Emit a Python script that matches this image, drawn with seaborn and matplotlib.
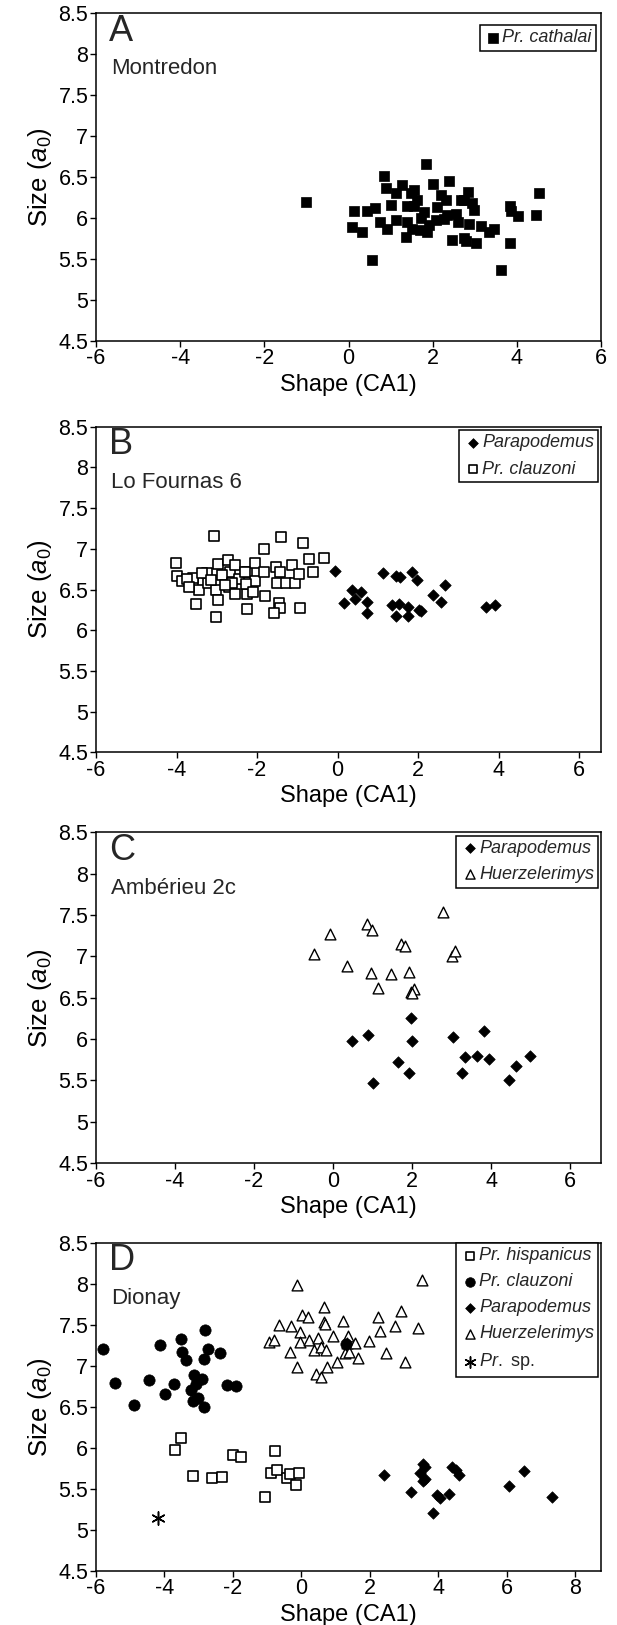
import numpy as np
import pandas as pd
import matplotlib
matplotlib.use('Agg')
import matplotlib.pyplot as plt
import seaborn as sns
from matplotlib.ticker import FuncFormatter

# Panel A - Montredon
a_cath_x = [-1.02, 1.85, 0.84, 0.90, 2.39, 2.00, 4.52, 4.45, 3.83, 4.03, 3.85, 3.83, 3.63, 0.55, 0.14,
            0.09, 0.33, 0.43, 0.64, 0.76, 0.92, 1.12, 1.28, 1.40, 1.56, 1.63, 1.40, 1.36, 1.52, 1.72,
            1.87, 2.11, 2.19, 2.31, 2.07, 2.27, 2.59, 2.83, 2.67, 2.94, 2.98, 2.87, 3.14, 3.34, 3.46,
            2.46, 2.74, 3.02, 2.78, 1.00, 1.12, 1.48, 1.71, 1.91, 2.35, 2.55, 1.80, 1.56, 2.75]
a_cath_y = [6.19, 6.66, 6.51, 6.37, 6.45, 6.42, 6.30, 6.04, 6.15, 6.02, 6.08, 5.70, 5.36, 5.49, 6.08,
            5.89, 5.83, 6.09, 6.12, 5.95, 5.87, 5.97, 6.40, 6.15, 6.34, 6.22, 5.95, 5.77, 5.87, 6.00,
            5.83, 6.14, 6.28, 6.22, 5.97, 5.99, 5.95, 6.32, 6.22, 6.18, 6.10, 5.93, 5.90, 5.83, 5.87,
            5.73, 5.75, 5.69, 5.72, 6.16, 6.30, 6.30, 5.85, 5.92, 6.04, 6.05, 6.07, 6.15, 6.22]

# Panel B - Lo Fournas 6
b_para_x = [-0.07, 0.15, 0.36, 0.42, 0.59, 0.72, 0.73, 1.12, 1.36, 1.45, 1.54, 1.45, 1.52, 1.74, 1.74,
            1.84, 1.96, 2.02, 2.06, 2.38, 2.56, 2.66, 3.68, 3.90]
b_para_y = [6.73, 6.33, 6.49, 6.38, 6.47, 6.35, 6.21, 6.70, 6.31, 6.67, 6.66, 6.17, 6.32, 6.29, 6.18,
            6.72, 6.62, 6.25, 6.24, 6.43, 6.35, 6.55, 6.28, 6.31]
b_clau_x = [-4.01, -3.99, -3.87, -3.59, -3.60, -3.45, -3.51, -3.25, -3.23, -3.01, -2.98, -3.01, -2.97,
            -2.73, -2.67, -2.54, -2.44, -2.71, -2.54, -2.24, -2.25, -2.25, -2.04, -1.84, -2.04, -1.84,
            -1.80, -1.52, -1.42, -1.50, -1.27, -1.05, -1.13, -0.97, -0.72, -0.61, -0.35, -1.46, -1.42,
            -1.59, -0.93, -0.86, -1.40, -3.08, -3.75, -3.37, -2.88, -2.62, -2.31, -2.28, -2.09, -3.70,
            -3.15, -2.80]
b_clau_y = [6.82, 6.67, 6.60, 6.58, 6.64, 6.49, 6.32, 6.70, 6.58, 6.49, 6.37, 6.16, 6.81,
            6.86, 6.72, 6.80, 6.63, 6.53, 6.45, 6.45, 6.26, 6.72, 6.82, 7.00, 6.61, 6.72,
            6.42, 6.78, 6.72, 6.58, 6.58, 6.58, 6.80, 6.69, 6.87, 6.72, 6.89, 6.33, 6.27,
            6.21, 6.27, 7.07, 7.14, 7.16, 6.63, 6.70, 6.68, 6.58, 6.72, 6.57, 6.47, 6.53,
            6.62, 6.55]

# Panel C - Ambérieu 2c
c_para_x = [0.47, 0.88, 1.01, 1.63, 1.91, 1.98, 2.00, 3.03, 3.25, 3.33, 3.63, 3.83, 3.94, 4.44, 4.63, 4.98]
c_para_y = [5.97, 6.05, 5.47, 5.72, 5.59, 6.25, 5.98, 6.02, 5.59, 5.78, 5.80, 6.10, 5.76, 5.50, 5.67, 5.80]
c_huer_x = [-0.49, -0.09, 0.35, 0.85, 0.99, 0.96, 1.13, 1.47, 1.73, 1.83, 1.91, 1.96, 2.05, 2.00, 2.77, 3.00, 3.09]
c_huer_y = [7.03, 7.27, 6.88, 7.39, 7.32, 6.80, 6.62, 6.79, 7.15, 7.13, 6.81, 6.57, 6.61, 6.56, 7.54, 7.00, 7.07]

# Panel D - Dionay
d_hisp_x = [-3.52, -3.69, -3.17, -2.62, -2.33, -2.00, -1.77, -0.76, -0.90, -0.72, -1.05, -0.41, -0.32, -0.06, -0.15]
d_hisp_y = [6.12, 5.97, 5.65, 5.63, 5.64, 5.91, 5.89, 5.96, 5.69, 5.73, 5.40, 5.63, 5.68, 5.69, 5.55]
d_clau_x = [-5.81, -5.45, -4.90, -4.45, -4.14, -3.99, -3.72, -3.53, -3.50, -3.38, -2.82, -2.74, -2.85,
            -2.37, -3.14, -2.90, -3.09, -3.24, -3.02, -3.17, -2.85, -2.17, -1.90, 1.31]
d_clau_y = [7.21, 6.79, 6.52, 6.83, 7.25, 6.65, 6.78, 7.33, 7.17, 7.07, 7.44, 7.20, 7.08,
            7.15, 6.89, 6.84, 6.78, 6.71, 6.61, 6.57, 6.50, 6.76, 6.75, 7.27]
d_para_x = [2.42, 3.54, 3.60, 3.47, 3.54, 3.60, 3.20, 3.95, 4.06, 4.32, 3.85, 4.40, 4.51, 4.61, 6.05, 6.50, 7.33]
d_para_y = [5.67, 5.80, 5.77, 5.69, 5.59, 5.62, 5.46, 5.42, 5.39, 5.43, 5.21, 5.77, 5.73, 5.67, 5.53, 5.72, 5.40]
d_huer_x = [-0.13, 3.51, 0.67, 0.03, 0.18, -0.66, -0.31, 0.66, 0.69, 1.21, 2.25, 2.90, 2.72, 3.40, 2.29,
            -0.04, -0.94, -0.80, -0.05, 0.23, 0.49, 0.93, 1.35, 1.33, 1.96, 1.56, -0.32, 0.37, 0.56, 0.72,
            1.27, 1.38, 1.64, 2.48, 1.04, -0.13, 0.75, 3.02, 0.44, 0.58]
d_huer_y = [7.98, 8.05, 7.72, 7.62, 7.60, 7.50, 7.49, 7.54, 7.51, 7.55, 7.60, 7.67, 7.48, 7.46, 7.42,
            7.41, 7.29, 7.32, 7.29, 7.32, 7.34, 7.36, 7.36, 7.28, 7.30, 7.28, 7.17, 7.19, 7.23, 7.19,
            7.15, 7.17, 7.09, 7.15, 7.04, 6.99, 6.99, 7.05, 6.90, 6.86]
d_sp_x = [-4.19]
d_sp_y = [5.14]

y_ticks = [4.5, 5, 5.5, 6, 6.5, 7, 7.5, 8, 8.5]

sns.set_theme(style="white")
plt.rcParams['font.family'] = ['Liberation Sans', 'DejaVu Sans']
plt.rcParams['mathtext.fontset'] = 'custom'
plt.rcParams['mathtext.rm'] = 'Liberation Sans'
plt.rcParams['mathtext.it'] = 'Liberation Sans:italic'
plt.rcParams['axes.unicode_minus'] = False

# marker styles for each species group
STYLES = {
    'sq_fill': dict(marker='s', color='black', edgecolor='black', s=62, linewidth=0.5),
    'sq_open': dict(marker='s', color='white', edgecolor='black', s=58, linewidth=1.2),
    'diamond': dict(marker='D', color='black', edgecolor='black', s=34, linewidth=0.5),
    'tri_open': dict(marker='^', color='white', edgecolor='black', s=60, linewidth=1.0),
    'circle': dict(marker='o', color='black', edgecolor='black', s=66, linewidth=0.5),
    'star': dict(marker=(6, 2, 0), color='black', edgecolor='black', s=90, linewidth=1.1),
}

fig = plt.figure(figsize=(6.17, 16.25), dpi=100)
left, width = 0.1556, 0.8185
panel_boxes = [(0.7903, 0.2015), (0.5370, 0.2004), (0.2843, 0.2035), (0.0334, 0.2018)]

panels = [
    ("A", "Montredon", (-6, 6), [-6, -4, -2, 0, 2, 4, 6],
     [("Pr. cathalai", a_cath_x, a_cath_y, 'sq_fill')]),
    ("B", "Lo Fournas 6", (-6, 6.54), [-6, -4, -2, 0, 2, 4, 6],
     [("Pr. clauzoni", b_clau_x, b_clau_y, 'sq_open'),
      ("Parapodemus", b_para_x, b_para_y, 'diamond')]),
    ("C", "Ambérieu 2c", (-6, 6.78), [-6, -4, -2, 0, 2, 4, 6],
     [("Huerzelerimys", c_huer_x, c_huer_y, 'tri_open'),
      ("Parapodemus", c_para_x, c_para_y, 'diamond')]),
    ("D", "Dionay", (-6, 8.75), [-6, -4, -2, 0, 2, 4, 6, 8],
     [("Huerzelerimys", d_huer_x, d_huer_y, 'tri_open'),
      ("Pr. clauzoni", d_clau_x, d_clau_y, 'circle'),
      ("Pr. hispanicus", d_hisp_x, d_hisp_y, 'sq_open'),
      ("Parapodemus", d_para_x, d_para_y, 'diamond'),
      ("Pr. sp.", d_sp_x, d_sp_y, 'star')]),
]
legend_order = [["Pr. cathalai"], ["Parapodemus", "Pr. clauzoni"], ["Parapodemus", "Huerzelerimys"],
                ["Pr. hispanicus", "Pr. clauzoni", "Parapodemus", "Huerzelerimys", "Pr. sp."]]
legend_anchor = [(0.99, 0.965), (0.995, 0.99), (0.995, 0.99), (0.995, 1.0)]

fmt = FuncFormatter(lambda v, p: f"{v:g}")

for i, (letter, site, xlim, xticks, groups) in enumerate(panels):
    bottom, height = panel_boxes[i]
    ax = fig.add_axes([left, bottom, width, height])
    handles = {}
    for label, xs, ys, st in groups:
        df = pd.DataFrame({"Shape": xs, "Size": ys})
        sns.scatterplot(data=df, x="Shape", y="Size", ax=ax, zorder=3, clip_on=False, **STYLES[st])
        handles[label] = ax.collections[-1]
    ax.set_xlim(*xlim)
    ax.set_ylim(4.5, 8.5)
    ax.set_xticks(xticks)
    ax.set_yticks(y_ticks)
    ax.xaxis.set_major_formatter(fmt)
    ax.yaxis.set_major_formatter(fmt)
    ax.tick_params(axis='both', which='major', direction='out', length=4, width=1,
                   labelsize=15.5, color='black', labelcolor='black', pad=1.5,
                   bottom=True, left=True)
    for sp in ax.spines.values():
        sp.set_color('black')
        sp.set_linewidth(1.1)
    ax.set_xlabel("Shape (CA1)", fontsize=17, labelpad=3, color='black')
    ax.set_ylabel(r"Size ($a_0$)", fontsize=18.5, labelpad=3, color='black')
    ax.text(0.025, 0.945, letter, transform=ax.transAxes, fontsize=26, va='center', ha='left')
    ax.text(0.03, 0.83, site, transform=ax.transAxes, fontsize=16, va='center', ha='left')

    names = legend_order[i]
    labels = [n if n != "Pr. sp." else r"$\mathit{Pr.}$ sp." for n in names]
    leg = ax.legend([handles[n] for n in names], labels, loc='upper right',
                    bbox_to_anchor=legend_anchor[i], fontsize=13,
                    frameon=True, fancybox=False, edgecolor='black', framealpha=1,
                    borderaxespad=0.0, handletextpad=0.0, handlelength=1.0,
                    borderpad=0.25, labelspacing=0.5, markerscale=0.85)
    leg.get_frame().set_linewidth(1.1)
    for t, n in zip(leg.get_texts(), names):
        if n != "Pr. sp.":
            t.set_fontstyle('italic')

fig.savefig("out.png", dpi=100)
